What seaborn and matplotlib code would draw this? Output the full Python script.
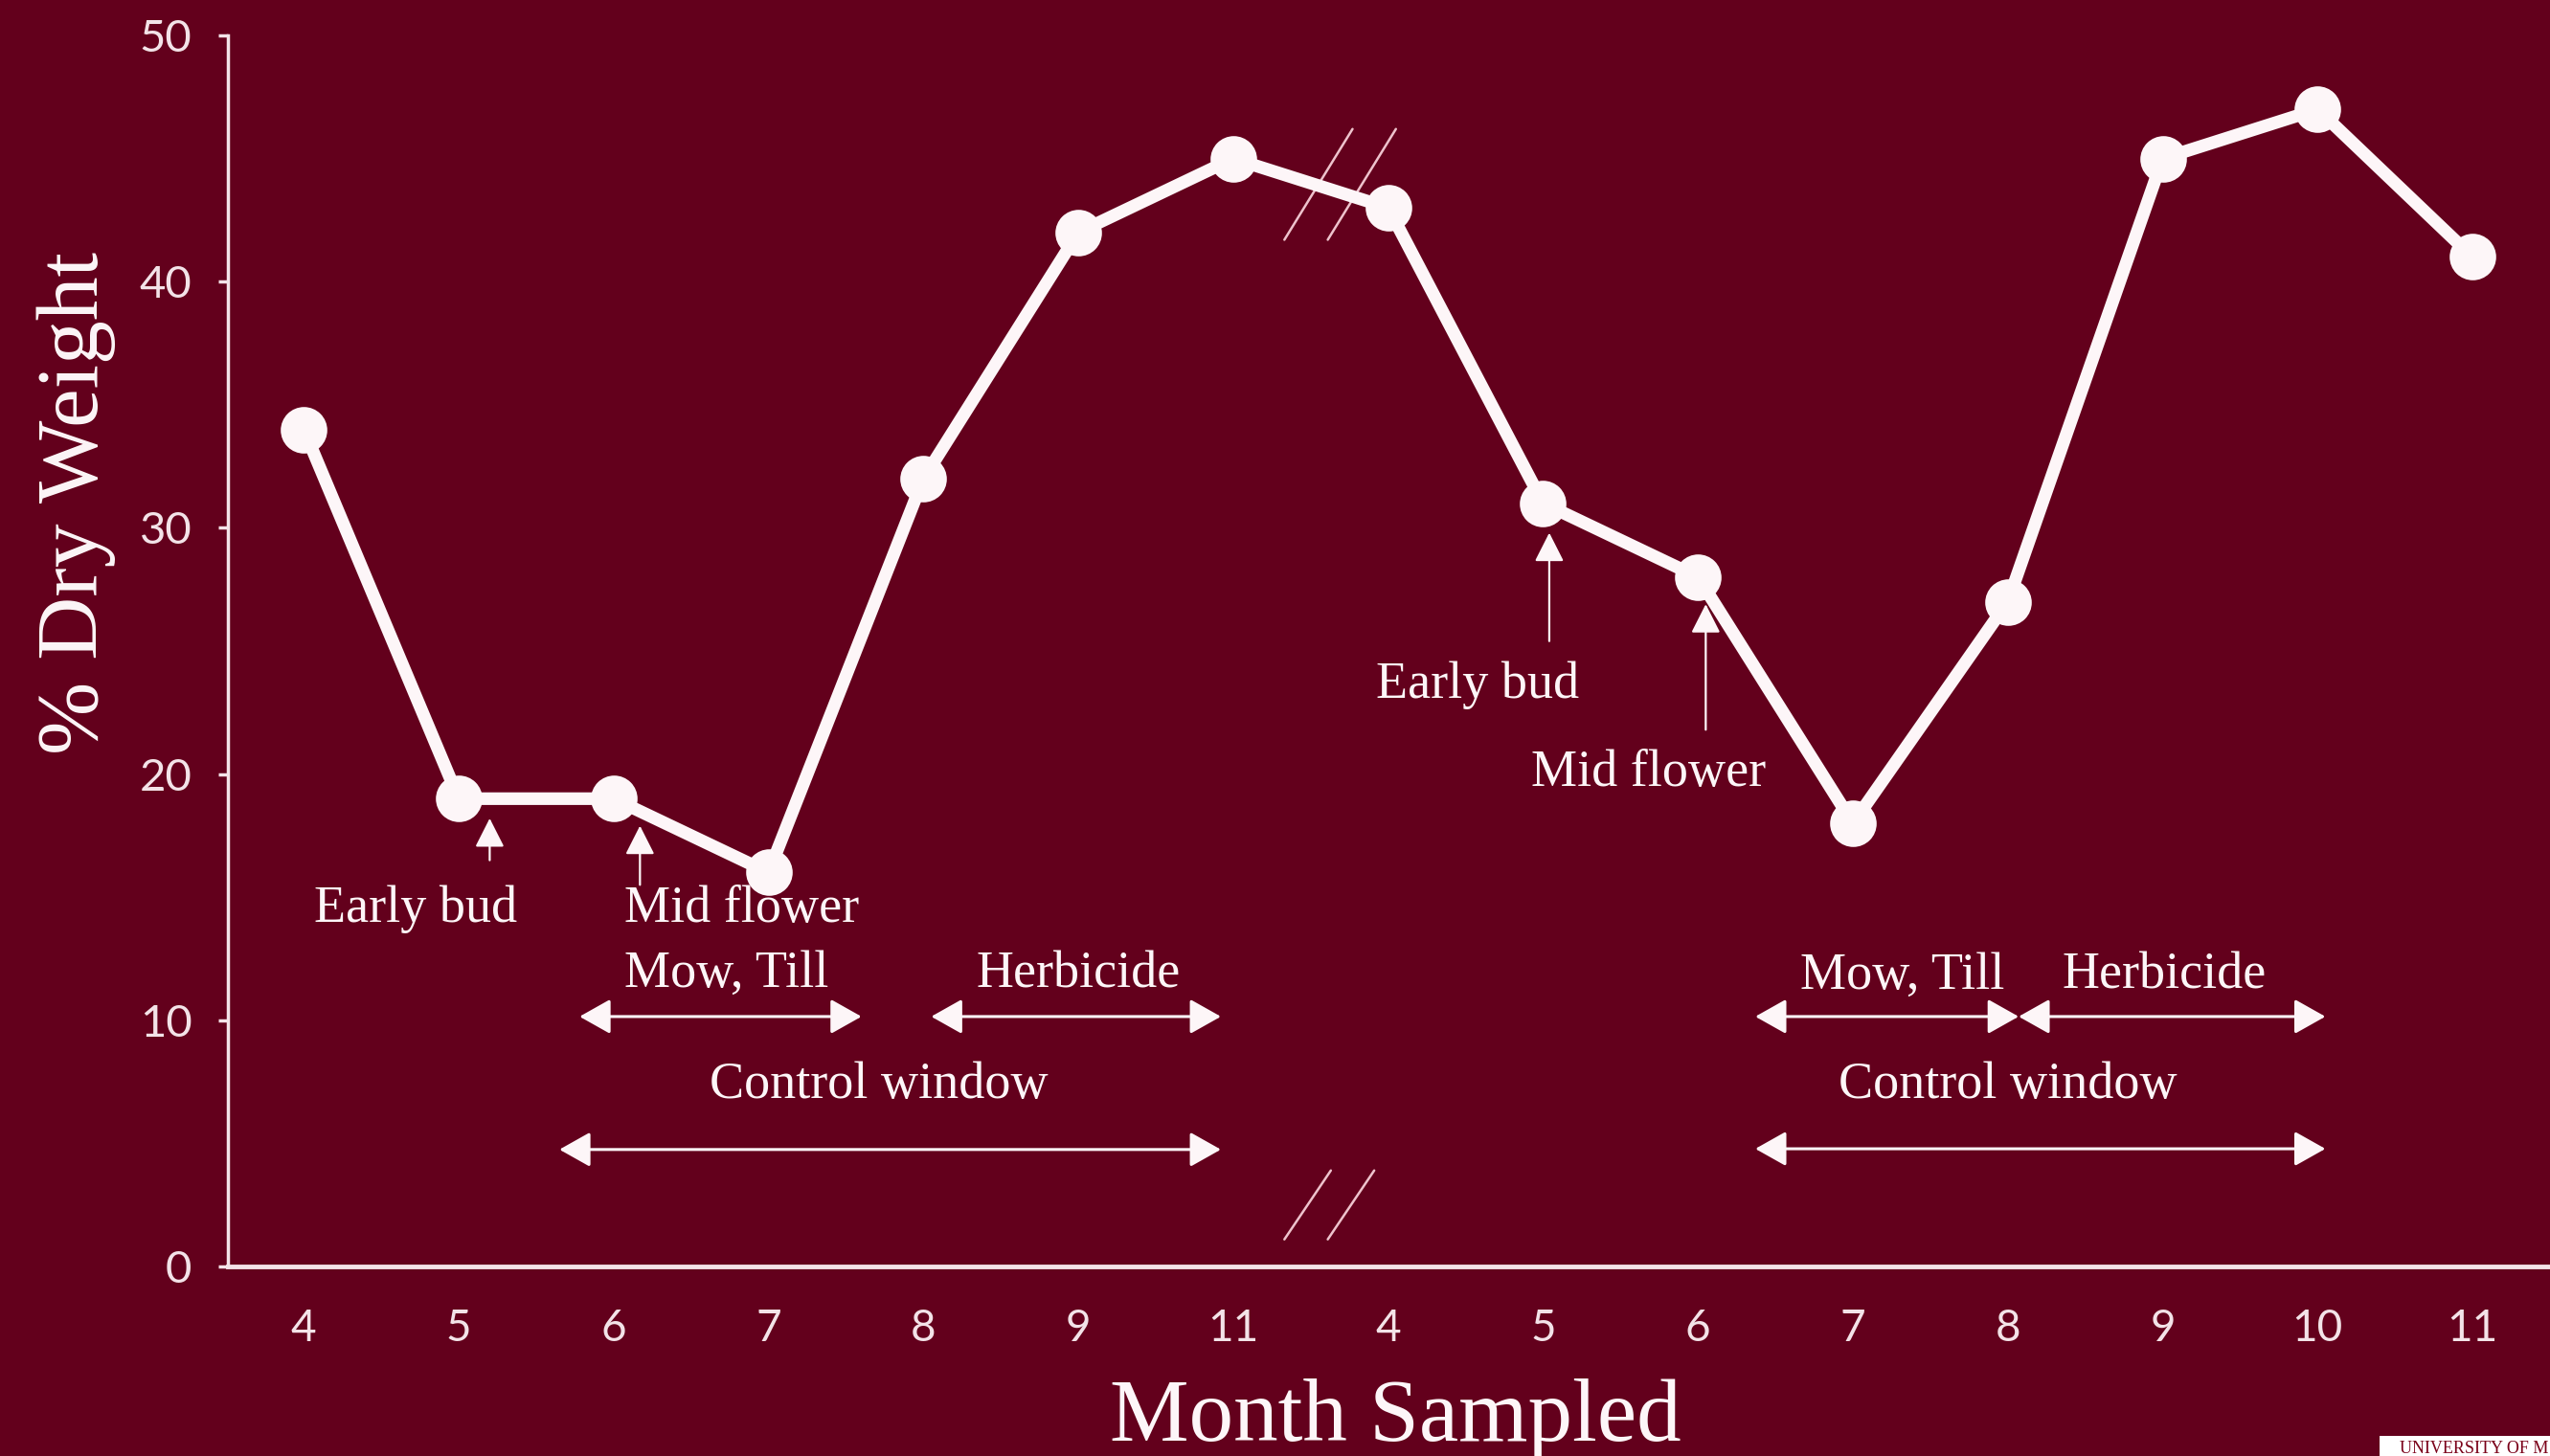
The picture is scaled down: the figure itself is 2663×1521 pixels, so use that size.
import numpy as np
import pandas as pd
import matplotlib
matplotlib.use("Agg")
import matplotlib.pyplot as plt
import seaborn as sns
from matplotlib.patches import Rectangle

# ---- data ----
months = ["4", "5", "6", "7", "8", "9", "11", "4", "5", "6", "7", "8", "9", "10", "11"]
dry_weight = [34, 19, 19, 16, 32, 42, 45, 43, 31, 28, 18, 27, 45, 47, 41]
y_ticks = [0, 10, 20, 30, 40, 50]

BG = "#63001c"
FG = "#fdf6f8"
TICKC = "#f3e3e8"
SERIF = ["Liberation Serif", "DejaVu Serif"]
SANS = ["Lato", "DejaVu Sans"]

sns.set_style("white")
plt.rcParams["font.family"] = SANS

W, H = 2663, 1521
fig = plt.figure(figsize=(W / 100, H / 100), dpi=100)
fig.patch.set_facecolor(BG)
ax = fig.add_axes([238 / W, 1 - 1323 / H, (W - 238) / W, (1323 - 37) / H])
ax.set_facecolor(BG)

df = pd.DataFrame({"pos": np.arange(len(months)), "dry": dry_weight})
sns.lineplot(data=df, x="pos", y="dry", ax=ax, color=FG, linewidth=9.5,
             marker="o", markersize=35, markeredgewidth=0, markerfacecolor=FG,
             zorder=5, clip_on=False)

ax.set_xlim(-0.49, 14.5)
ax.set_ylim(0, 50)
ax.set_xticks(np.arange(len(months)))
ax.set_xticklabels(months)
ax.set_yticks(y_ticks)
ax.set_yticklabels([str(t) for t in y_ticks])
ax.set_xlabel("")
ax.set_ylabel("")

for s in ["top", "right"]:
    ax.spines[s].set_visible(False)
ax.spines["left"].set_color(TICKC)
ax.spines["left"].set_linewidth(2.5)
ax.spines["bottom"].set_color(TICKC)
ax.spines["bottom"].set_linewidth(3.5)

ax.tick_params(axis="y", direction="out", length=7, width=2.5, color=TICKC,
               labelcolor=TICKC, labelsize=34, pad=20, left=True)
ax.tick_params(axis="x", length=0, labelcolor=TICKC, labelsize=33, pad=32, bottom=True)
for lab in ax.get_xticklabels() + ax.get_yticklabels():
    lab.set_family(SANS)

# axis titles
fig.text(80 / W, 1 - 525 / H, "% Dry Weight", rotation=90, ha="center", va="center",
         fontsize=66, color=FG, family=SERIF)
fig.text(1457 / W, 1 - 1505 / H, "Month Sampled", ha="center", va="baseline",
         fontsize=67, color=FG, family=SERIF)

# break marks
brk = dict(color="#eec3cd", lw=1.8, clip_on=False, zorder=3)
for dx in (0.0, 0.28):
    ax.plot([6.33 + dx, 6.77 + dx], [41.7, 46.2], **brk)
    ax.plot([6.33 + dx, 6.63 + dx], [1.1, 3.9], **brk)

TXT = dict(color=FG, fontsize=39, family=SERIF, va="baseline")

def dbl(x0, x1, y):
    ax.annotate("", xy=(x1, y), xytext=(x0, y),
                arrowprops=dict(arrowstyle="<|-|>,head_length=0.8,head_width=0.45",
                                mutation_scale=25, color=FG, lw=2.2,
                                shrinkA=0, shrinkB=0))

def up(x, y0, y1):
    ax.annotate("", xy=(x, y1), xytext=(x, y0),
                arrowprops=dict(arrowstyle="-|>,head_length=0.75,head_width=0.38",
                                mutation_scale=25, color=FG, lw=1.6,
                                shrinkA=0, shrinkB=0))

# left season
ax.text(0.72, 14.0, "Early bud", ha="center", **TXT)
ax.text(2.07, 14.0, "Mid flower", ha="left", **TXT)
up(1.20, 16.5, 18.2)
up(2.17, 15.5, 17.9)
ax.text(2.07, 11.35, "Mow, Till", ha="left", **TXT)
ax.text(5.00, 11.35, "Herbicide", ha="center", **TXT)
dbl(1.78, 3.60, 10.15)
dbl(4.05, 5.92, 10.15)
ax.text(3.71, 6.84, "Control window", ha="center", **TXT)
dbl(1.65, 5.92, 4.75)

# right season
ax.text(7.58, 23.1, "Early bud", ha="center", **TXT)
ax.text(8.68, 19.5, "Mid flower", ha="center", **TXT)
up(8.04, 25.4, 29.8)
up(9.05, 21.8, 26.9)
ax.text(10.32, 11.3, "Mow, Till", ha="center", **TXT)
ax.text(12.01, 11.3, "Herbicide", ha="center", **TXT)
dbl(9.37, 11.07, 10.15)
dbl(11.07, 13.05, 10.15)
ax.text(11.0, 6.84, "Control window", ha="center", **TXT)
dbl(9.37, 13.05, 4.78)

# logo strip (as much of it as the reference shows)
fig.patches.append(Rectangle((2485 / W, 0), (W - 2485) / W, 21 / H,
                             transform=fig.transFigure, facecolor="white",
                             edgecolor="none", zorder=1))
fig.text(2506 / W, 3 / H, "UNIVERSITY OF M", ha="left", va="baseline",
         fontsize=13, color="#7a0019", family=SERIF, zorder=2)

fig.savefig("out.png", dpi=100, facecolor=BG)
